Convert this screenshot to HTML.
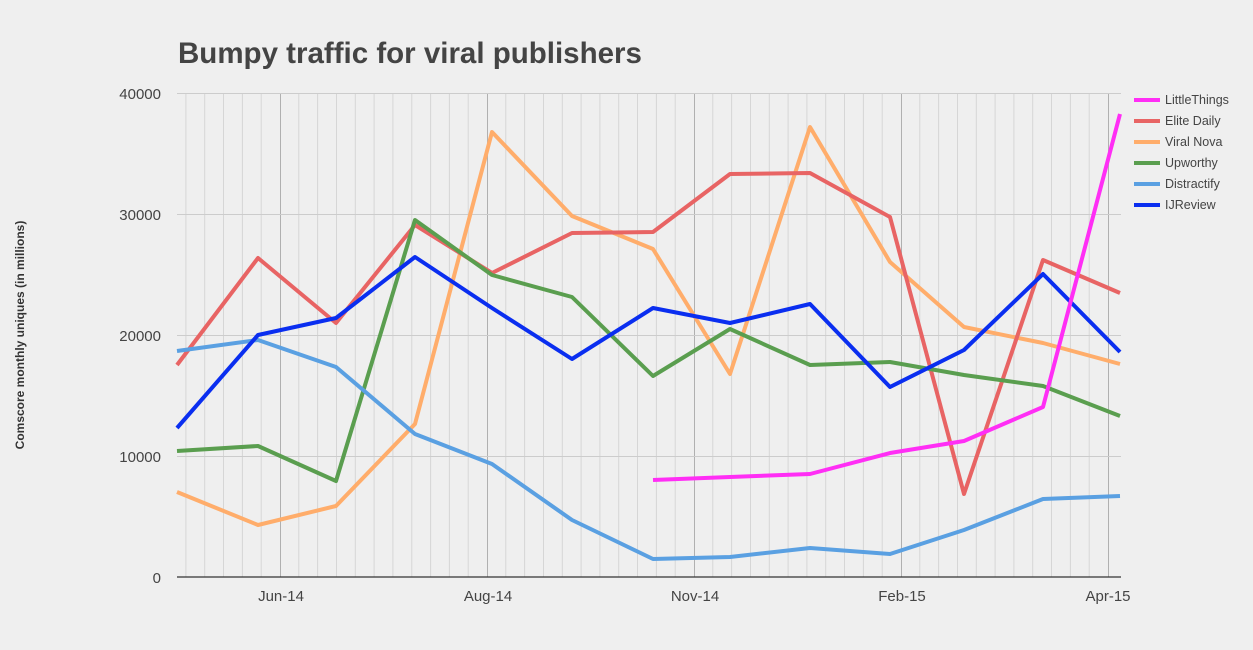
<!DOCTYPE html>
<html><head><meta charset="utf-8"><style>
body{margin:0;background:#efefef;}
svg{display:block;font-family:"Liberation Sans",sans-serif;}
</style></head><body>
<svg width="1253" height="650" xmlns="http://www.w3.org/2000/svg">
<rect width="1253" height="650" fill="#efefef"/>
<text x="178" y="63" font-size="29.5" font-weight="bold" fill="#444">Bumpy traffic for viral publishers</text>
<g stroke="#d6d6d6" stroke-width="1">
<line x1="185.9" y1="93" x2="185.9" y2="577"/><line x1="204.7" y1="93" x2="204.7" y2="577"/><line x1="223.5" y1="93" x2="223.5" y2="577"/><line x1="242.4" y1="93" x2="242.4" y2="577"/><line x1="261.2" y1="93" x2="261.2" y2="577"/>
<line x1="298.8" y1="93" x2="298.8" y2="577"/><line x1="317.6" y1="93" x2="317.6" y2="577"/><line x1="336.5" y1="93" x2="336.5" y2="577"/><line x1="355.3" y1="93" x2="355.3" y2="577"/><line x1="374.1" y1="93" x2="374.1" y2="577"/><line x1="392.9" y1="93" x2="392.9" y2="577"/><line x1="411.8" y1="93" x2="411.8" y2="577"/><line x1="430.6" y1="93" x2="430.6" y2="577"/><line x1="449.4" y1="93" x2="449.4" y2="577"/><line x1="468.2" y1="93" x2="468.2" y2="577"/>
<line x1="505.8" y1="93" x2="505.8" y2="577"/><line x1="524.6" y1="93" x2="524.6" y2="577"/><line x1="543.5" y1="93" x2="543.5" y2="577"/><line x1="562.3" y1="93" x2="562.3" y2="577"/><line x1="581.1" y1="93" x2="581.1" y2="577"/><line x1="599.9" y1="93" x2="599.9" y2="577"/><line x1="618.7" y1="93" x2="618.7" y2="577"/><line x1="637.5" y1="93" x2="637.5" y2="577"/><line x1="656.4" y1="93" x2="656.4" y2="577"/><line x1="675.2" y1="93" x2="675.2" y2="577"/>
<line x1="712.8" y1="93" x2="712.8" y2="577"/><line x1="731.6" y1="93" x2="731.6" y2="577"/><line x1="750.5" y1="93" x2="750.5" y2="577"/><line x1="769.3" y1="93" x2="769.3" y2="577"/><line x1="788.1" y1="93" x2="788.1" y2="577"/><line x1="806.9" y1="93" x2="806.9" y2="577"/><line x1="825.7" y1="93" x2="825.7" y2="577"/><line x1="844.5" y1="93" x2="844.5" y2="577"/><line x1="863.4" y1="93" x2="863.4" y2="577"/><line x1="882.2" y1="93" x2="882.2" y2="577"/>
<line x1="919.8" y1="93" x2="919.8" y2="577"/><line x1="938.6" y1="93" x2="938.6" y2="577"/><line x1="957.5" y1="93" x2="957.5" y2="577"/><line x1="976.3" y1="93" x2="976.3" y2="577"/><line x1="995.1" y1="93" x2="995.1" y2="577"/><line x1="1013.9" y1="93" x2="1013.9" y2="577"/><line x1="1032.7" y1="93" x2="1032.7" y2="577"/><line x1="1051.5" y1="93" x2="1051.5" y2="577"/><line x1="1070.4" y1="93" x2="1070.4" y2="577"/><line x1="1089.2" y1="93" x2="1089.2" y2="577"/>
</g>
<g stroke="#b0b0b0" stroke-width="1">
<line x1="280.5" y1="93" x2="280.5" y2="577"/><line x1="487.5" y1="93" x2="487.5" y2="577"/><line x1="694.5" y1="93" x2="694.5" y2="577"/><line x1="901.5" y1="93" x2="901.5" y2="577"/><line x1="1108.5" y1="93" x2="1108.5" y2="577"/>
</g>
<g stroke="#cccccc" stroke-width="1">
<line x1="177" y1="93.5" x2="1121" y2="93.5"/>
<line x1="177" y1="214.5" x2="1121" y2="214.5"/>
<line x1="177" y1="335.5" x2="1121" y2="335.5"/>
<line x1="177" y1="456.5" x2="1121" y2="456.5"/>
</g>
<line x1="177" y1="577" x2="1121" y2="577" stroke="#333" stroke-width="1.2"/>
<g font-size="15" fill="#444" text-anchor="end">
<text x="161" y="99">40000</text>
<text x="161" y="220">30000</text>
<text x="161" y="341">20000</text>
<text x="161" y="462">10000</text>
<text x="161" y="583">0</text>
</g>
<g font-size="15" fill="#444" text-anchor="middle">
<text x="281" y="601">Jun-14</text>
<text x="488" y="601">Aug-14</text>
<text x="695" y="601">Nov-14</text>
<text x="902" y="601">Feb-15</text>
<text x="1108" y="601">Apr-15</text>
</g>
<text transform="translate(24,335) rotate(-90)" font-size="12" font-weight="bold" fill="#333" text-anchor="middle">Comscore monthly uniques (in millions)</text>
<g fill="none" stroke-width="4" stroke-linejoin="round">
<polyline stroke="#ffad6b" points="177,492 258,525 336,506 415,424 492,132 572,216 653,249 730,374 810,127 890,262 964,327 1043,343 1120,364"/>
<polyline stroke="#e86464" points="177,365 258,258 336,323 415,225 492,273 572,233 653,232 730,174 810,173 890,217 964,494 1043,260 1120,293"/>
<polyline stroke="#5a9e4f" points="177,451 258,446 336,481 415,220 492,275 572,297 653,376 730,329 810,365 890,362 964,375 1043,386 1120,416"/>
<polyline stroke="#5aa0e2" points="177,351 258,340 336,367 415,434 492,464 572,520 653,559 730,557 810,548 890,554 964,530 1043,499 1120,496"/>
<polyline stroke="#0a2ef0" points="177,428 258,335 336,318 415,257 492,308 572,359 653,308 730,323 810,304 890,387 964,350 1043,274 1120,352"/>
<polyline stroke="#ff2ef5" points="653,480 730,477 810,474 890,453 964,441 1043,407 1120,114"/>
</g>
<g stroke-width="4">
<line x1="1134" y1="100" x2="1160" y2="100" stroke="#ff2ef5"/>
<line x1="1134" y1="121" x2="1160" y2="121" stroke="#e86464"/>
<line x1="1134" y1="142" x2="1160" y2="142" stroke="#ffad6b"/>
<line x1="1134" y1="163" x2="1160" y2="163" stroke="#5a9e4f"/>
<line x1="1134" y1="184" x2="1160" y2="184" stroke="#5aa0e2"/>
<line x1="1134" y1="205" x2="1160" y2="205" stroke="#0a2ef0"/>
</g>
<g font-size="12.5" fill="#444">
<text x="1165" y="104">LittleThings</text>
<text x="1165" y="125">Elite Daily</text>
<text x="1165" y="146">Viral Nova</text>
<text x="1165" y="167">Upworthy</text>
<text x="1165" y="188">Distractify</text>
<text x="1165" y="209">IJReview</text>
</g>
</svg>
</body></html>
